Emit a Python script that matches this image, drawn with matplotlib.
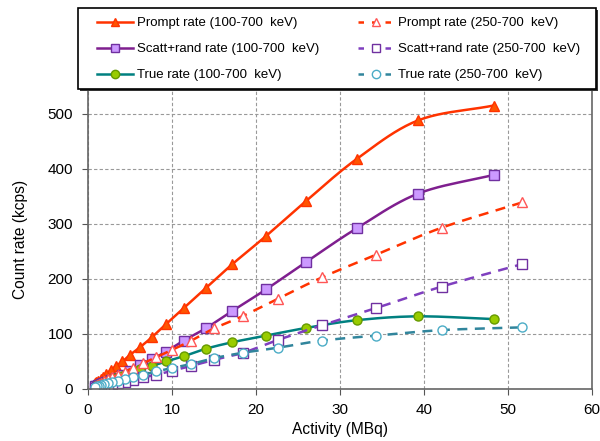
import numpy as np
import matplotlib
matplotlib.use("Agg")
import matplotlib.pyplot as plt
from matplotlib.patches import Rectangle

plt.rcParams['font.family'] = ['Liberation Sans', 'DejaVu Sans']

# activity (MBq) for the two energy windows
act_100 = [48.3, 39.3, 32.0, 26.0, 21.2, 17.2, 14.0, 11.4, 9.3, 7.6, 6.2, 5.0,
           4.1, 3.3, 2.7, 2.2, 1.8, 1.5, 1.2, 1.0, 0.8]
act_250 = [51.7, 42.1, 34.3, 27.9, 22.6, 18.5, 15.0, 12.3, 10.0, 8.15, 6.6, 5.4,
           4.4, 3.6, 2.9, 2.4, 1.95, 1.6, 1.3, 1.05, 0.86]

# count rates (kcps)
prompt_100 = [515, 488, 418, 342, 278, 227, 183, 147, 118, 94, 76, 62,
              50, 41, 34, 27.5, 22.5, 18.5, 15, 12.5, 10]
scatt_100 = [389, 355, 292, 231, 181, 142, 110, 88, 68, 54, 43, 33,
             25.5, 20, 16, 13, 10.5, 8.7, 7, 5.8, 4.6]
true_100 = [127, 132, 125, 111, 97, 85, 73, 59.5, 50, 42, 36, 28.5,
            24, 20, 16.5, 13.5, 11, 9.2, 7.5, 6.2, 5]
prompt_250 = [339, 293, 244, 203, 164, 133, 110, 88, 71, 58, 47, 38.5,
              31.5, 26, 21, 17.3, 14, 11.5, 9.4, 7.6, 6.2]
scatt_250 = [227, 186, 147, 116, 89, 66, 53, 42, 33, 26, 21, 16.5,
             13.3, 10.7, 8.6, 7, 5.6, 4.5, 3.7, 3, 2.4]
true_250 = [112, 107, 97, 88, 75, 66, 56, 45.5, 38, 32, 26, 22,
            18, 15, 12.4, 10.3, 8.4, 6.9, 5.7, 4.6, 3.8]


def smooth(x, y, n=12):
    # Catmull-Rom curve through the points, like Excel's smoothed lines
    x = np.asarray(x, float)[::-1]
    y = np.asarray(y, float)[::-1]
    px = np.concatenate([[2 * x[0] - x[1]], x, [2 * x[-1] - x[-2]]])
    py = np.concatenate([[2 * y[0] - y[1]], y, [2 * y[-1] - y[-2]]])
    t = np.linspace(0, 1, n)[:, None]
    xs, ys = [], []
    for i in range(1, len(px) - 2):
        for p, out in ((px, xs), (py, ys)):
            p0, p1, p2, p3 = p[i - 1], p[i], p[i + 1], p[i + 2]
            out.append((0.5 * ((2 * p1) + (-p0 + p2) * t +
                               (2 * p0 - 5 * p1 + 4 * p2 - p3) * t ** 2 +
                               (-p0 + 3 * p1 - 3 * p2 + p3) * t ** 3)).ravel())
    return np.concatenate(xs), np.concatenate(ys)


fig = plt.figure(figsize=(6.0, 4.41), dpi=100)
ax = fig.add_axes([88 / 600, 52 / 441, 504 / 600, 300 / 441])

series = [
    (act_100, prompt_100, 'Prompt rate (100-700  keV)', '#FF3300', '-', '^', '#FF5500', '#FF3300'),
    (act_100, scatt_100, 'Scatt+rand rate (100-700  keV)', '#7F1F8F', '-', 's', '#CC99FF', '#7030A0'),
    (act_100, true_100, 'True rate (100-700  keV)', '#008080', '-', 'o', '#99CC00', '#669900'),
    (act_250, prompt_250, 'Prompt rate (250-700  keV)', '#FF3300', '--', '^', 'white', '#FF5555'),
    (act_250, scatt_250, 'Scatt+rand rate (250-700  keV)', '#7F3FBF', '--', 's', 'white', '#7030A0'),
    (act_250, true_250, 'True rate (250-700  keV)', '#31859C', '--', 'o', 'white', '#4BACC6'),
]

handles = []
for xv, yv, lab, lc, ls, mk, mf, me in series:
    sx, sy = smooth(xv, yv)
    ln, = ax.plot(sx, sy, color=lc, lw=1.8)
    ax.plot(xv, yv, ls='none', marker=mk, ms=6.5, mfc=mf, mec=me, mew=1.0)
    h, = ax.plot([], [], color=lc, lw=1.8, marker=mk, ms=6,
                 mfc=mf, mec=me, mew=1.0, label=lab)
    if ls == '--':
        ln.set_dashes((4, 3))
        h.set_dashes((2.2, 3.2))
    handles.append(h)

ax.set_xlim(0, 60)
ax.set_ylim(0, 545)
ax.set_xticks(range(0, 61, 10))
ax.set_yticks(range(0, 501, 100))
ax.grid(True, ls=(0, (3, 2)), color='#999999', lw=0.8)
ax.tick_params(labelsize=11, direction='out', length=4.3, color='#555555')
ax.tick_params(axis='y', pad=6.5)
ax.tick_params(axis='x', pad=5.5)
for s in ax.spines.values():
    s.set_color('#666666')
    s.set_linewidth(1.2)
ax.spines['top'].set_visible(False)
ax.set_xlabel('Activity (MBq)', fontsize=11.2, labelpad=4)
ax.set_ylabel('Count rate (kcps)', fontsize=11.2, labelpad=14)

# legend box with a small shadow
fig.patches.append(Rectangle((80 / 600, 1 - 91 / 441), 518 / 600, 81 / 441,
                             transform=fig.transFigure, facecolor='#333333',
                             edgecolor='none', zorder=1))
fig.patches.append(Rectangle((78 / 600, 1 - 89 / 441), 518 / 600, 81 / 441,
                             transform=fig.transFigure, facecolor='white',
                             edgecolor='black', lw=1.2, zorder=2))

leg = fig.legend(handles=handles, ncol=2, loc='upper left',
                 bbox_to_anchor=(97 / 600, 1 - 17 / 441),
                 fontsize=9.5, frameon=False, handlelength=2.7,
                 handletextpad=0.3, labelspacing=1.05, columnspacing=3.0,
                 borderpad=0, borderaxespad=0)
leg.set_zorder(5)

fig.savefig('out.png', dpi=100)
